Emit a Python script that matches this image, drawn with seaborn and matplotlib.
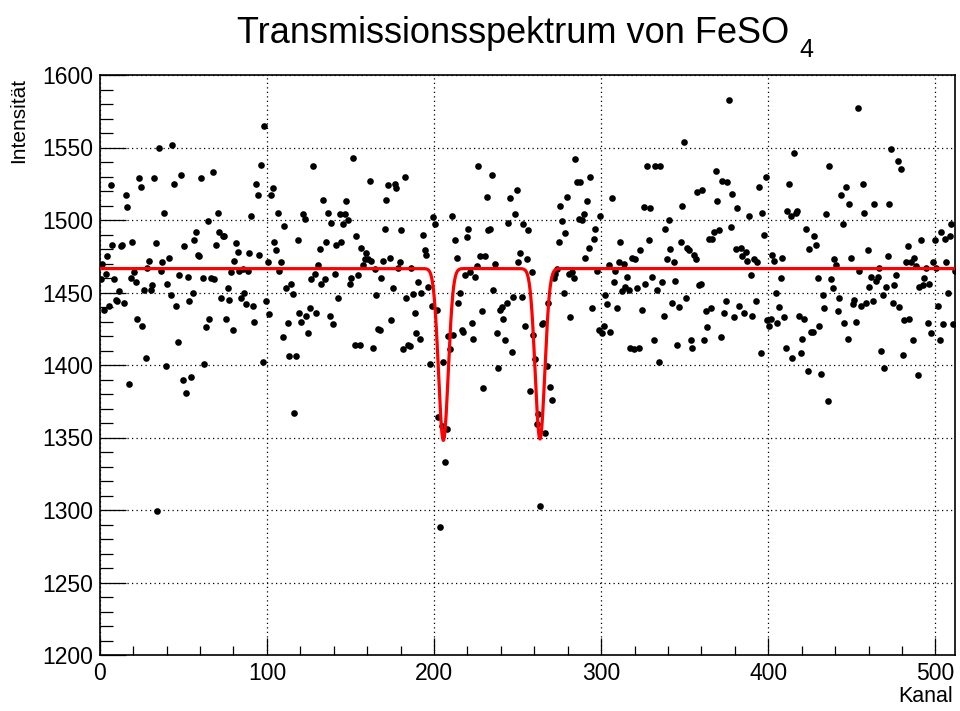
import numpy as np
import pandas as pd
import matplotlib
matplotlib.use("Agg")
import matplotlib.pyplot as plt
from matplotlib.ticker import MultipleLocator
import seaborn as sns

# Counts per channel (bin 0 .. 511)
intensity = [
    1459, 1470, 1438, 1463, 1475, 1441, 1524, 1483, 1459, 1445, 1444, 1451, 1482, 1483, 1443, 1517,
    1509, 1387, 1460, 1485, 1464, 1457, 1432, 1529, 1523, 1427, 1452, 1405, 1467, 1472, 1452, 1455,
    1529, 1484, 1299, 1550, 1465, 1471, 1505, 1399, 1456, 1474, 1448, 1552, 1525, 1441, 1416, 1462,
    1531, 1390, 1482, 1381, 1461, 1444, 1392, 1450, 1486, 1492, 1476, 1475, 1529, 1460, 1401, 1426,
    1499, 1432, 1460, 1533, 1459, 1483, 1505, 1492, 1446, 1489, 1489, 1432, 1453, 1445, 1464, 1424,
    1472, 1484, 1478, 1465, 1446, 1466, 1450, 1442, 1465, 1477, 1503, 1441, 1430, 1525, 1517, 1476,
    1538, 1402, 1565, 1444, 1471, 1435, 1517, 1522, 1485, 1479, 1505, 1465, 1471, 1419, 1496, 1453,
    1429, 1406, 1456, 1449, 1367, 1406, 1486, 1436, 1430, 1504, 1501, 1434, 1422, 1439, 1459, 1537,
    1463, 1436, 1469, 1480, 1456, 1514, 1459, 1485, 1505, 1434, 1498, 1428, 1463, 1483, 1446, 1504,
    1485, 1497, 1504, 1513, 1500, 1456, 1460, 1543, 1414, 1489, 1462, 1414, 1481, 1469, 1473, 1477,
    1473, 1527, 1472, 1412, 1466, 1448, 1425, 1424, 1460, 1472, 1494, 1514, 1524, 1474, 1431, 1453,
    1525, 1522, 1467, 1471, 1493, 1411, 1530, 1446, 1414, 1413, 1467, 1449, 1436, 1422, 1457, 1418,
    1450, 1490, 1479, 1476, 1454, 1401, 1441, 1502, 1497, 1438, 1364, 1288, 1358, 1402, 1333, 1356,
    1420, 1411, 1503, 1421, 1486, 1474, 1443, 1450, 1424, 1423, 1462, 1488, 1494, 1464, 1429, 1418,
    1461, 1468, 1537, 1475, 1437, 1384, 1475, 1516, 1493, 1494, 1531, 1452, 1470, 1422, 1398, 1438,
    1440, 1432, 1417, 1443, 1498, 1515, 1409, 1447, 1504, 1521, 1471, 1477, 1447, 1497, 1427, 1473,
    1493, 1382, 1464, 1421, 1404, 1359, 1366, 1303, 1428, 1429, 1353, 1399, 1443, 1385, 1376, 1460,
    1463, 1466, 1485, 1510, 1499, 1450, 1491, 1516, 1463, 1433, 1464, 1460, 1542, 1526, 1501, 1526,
    1500, 1504, 1474, 1513, 1481, 1530, 1439, 1487, 1494, 1465, 1424, 1503, 1422, 1427, 1448, 1442,
    1469, 1423, 1515, 1457, 1465, 1439, 1471, 1485, 1451, 1470, 1454, 1461, 1452, 1412, 1474, 1411,
    1473, 1453, 1412, 1479, 1438, 1509, 1456, 1537, 1486, 1508, 1461, 1417, 1537, 1452, 1402, 1537,
    1457, 1434, 1494, 1473, 1500, 1480, 1443, 1471, 1458, 1414, 1440, 1485, 1510, 1554, 1446, 1481,
    1479, 1417, 1412, 1476, 1473, 1519, 1455, 1456, 1521, 1417, 1437, 1426, 1487, 1439, 1487, 1492,
    1534, 1513, 1493, 1419, 1527, 1436, 1444, 1526, 1583, 1495, 1518, 1433, 1480, 1508, 1441, 1481,
    1475, 1436, 1478, 1472, 1503, 1462, 1434, 1473, 1444, 1471, 1523, 1408, 1505, 1490, 1530, 1431,
    1427, 1432, 1476, 1472, 1450, 1429, 1440, 1460, 1474, 1433, 1412, 1506, 1525, 1503, 1405, 1546,
    1505, 1506, 1434, 1408, 1418, 1432, 1494, 1396, 1480, 1423, 1423, 1489, 1483, 1460, 1427, 1394,
    1448, 1439, 1504, 1375, 1537, 1459, 1453, 1473, 1469, 1437, 1446, 1517, 1497, 1429, 1523, 1418,
    1511, 1474, 1442, 1445, 1430, 1577, 1465, 1441, 1525, 1505, 1443, 1479, 1454, 1461, 1444, 1511,
    1458, 1461, 1467, 1410, 1448, 1398, 1454, 1475, 1511, 1549, 1443, 1455, 1462, 1541, 1440, 1535,
    1407, 1431, 1471, 1482, 1432, 1471, 1417, 1474, 1468, 1393, 1454, 1486, 1455, 1460, 1467, 1429,
    1456, 1422, 1471, 1486, 1467, 1441, 1417, 1492, 1428, 1487, 1471, 1450, 1489, 1497, 1428, 1465,
]

# Fit parameters (two Gaussian absorption dips on a flat baseline)
fit_baseline = 1466.5
fit_centers = [205.6, 263.4]
fit_depths = [118.5, 117.5]
fit_sigmas = [2.9, 2.9]

x_range = [0, 512]
y_range = [1200, 1600]
x_major, x_minor = 100, 20
y_major, y_minor = 50, 10

title_main = "Transmissionsspektrum von FeSO"
title_sub = "4"
x_label = "Kanal"
y_label = "Intensität"

sns.set_theme(style="ticks")
plt.rcParams['font.family'] = ['Liberation Sans', 'DejaVu Sans']

W, H = 960, 711
fig = plt.figure(figsize=(W / 100, H / 100), dpi=100)
fig.patch.set_facecolor("white")
ax = fig.add_axes([99.8 / W, 1 - 655 / H, (955.4 - 99.8) / W, 580 / H])
ax.set_facecolor("white")

df = pd.DataFrame({"Kanal": np.arange(len(intensity)) + 0.5, "Intensität": intensity})
sns.scatterplot(data=df, x="Kanal", y="Intensität", ax=ax, color="black",
                s=23, linewidth=0, zorder=3, legend=False)

xf = np.linspace(x_range[0], x_range[1], 4000)
yf = np.full_like(xf, fit_baseline)
for c, d, s in zip(fit_centers, fit_depths, fit_sigmas):
    yf = yf - d * np.exp(-0.5 * ((xf - c) / s) ** 2)
sns.lineplot(x=xf, y=yf, ax=ax, color="#ff0000", linewidth=2.3, zorder=4,
             estimator=None, sort=False, legend=False)

ax.set_xlim(*x_range)
ax.set_ylim(*y_range)
ax.xaxis.set_major_locator(MultipleLocator(x_major))
ax.xaxis.set_minor_locator(MultipleLocator(x_minor))
ax.yaxis.set_major_locator(MultipleLocator(y_major))
ax.yaxis.set_minor_locator(MultipleLocator(y_minor))

ax.grid(True, which="major", color="black", linestyle=(0, (1, 2.6)), linewidth=0.9, zorder=1)
ax.set_axisbelow(True)

ax.xaxis.set_tick_params(which="major", direction="in", length=12.5, width=0.9,
                         labelsize=16.5, pad=5, top=False, color="black")
ax.xaxis.set_tick_params(which="minor", direction="in", length=6.3, width=0.9, top=False, color="black")
ax.yaxis.set_tick_params(which="major", direction="in", length=18.5, width=0.9,
                         labelsize=16.5, pad=5, right=False, color="black")
ax.yaxis.set_tick_params(which="minor", direction="in", length=9.3, width=0.9, right=False, color="black")
for lab in ax.get_xticklabels() + ax.get_yticklabels():
    lab.set_color("black")

for sp in ax.spines.values():
    sp.set_visible(True)
    sp.set_color("black")
    sp.set_linewidth(1.2)

ax.set_xlabel("")
ax.set_ylabel("")
fig.text(953 / W, 1 - 696 / H, x_label, ha="right", va="center", fontsize=15.5, color="black")
fig.text(19 / W, 1 - 78 / H, y_label, ha="center", va="top", rotation=90, fontsize=15, color="black")

t = fig.text(237 / W, 1 - 43 / H, title_main, ha="left", va="baseline", fontsize=26, color="black")
fig.canvas.draw()
bb = t.get_window_extent(renderer=fig.canvas.get_renderer())
fig.text((bb.x1 + 10) / W, 1 - 57 / H, title_sub, ha="left", va="baseline", fontsize=18, color="black")

fig.savefig("out.png", dpi=100, facecolor="white")
